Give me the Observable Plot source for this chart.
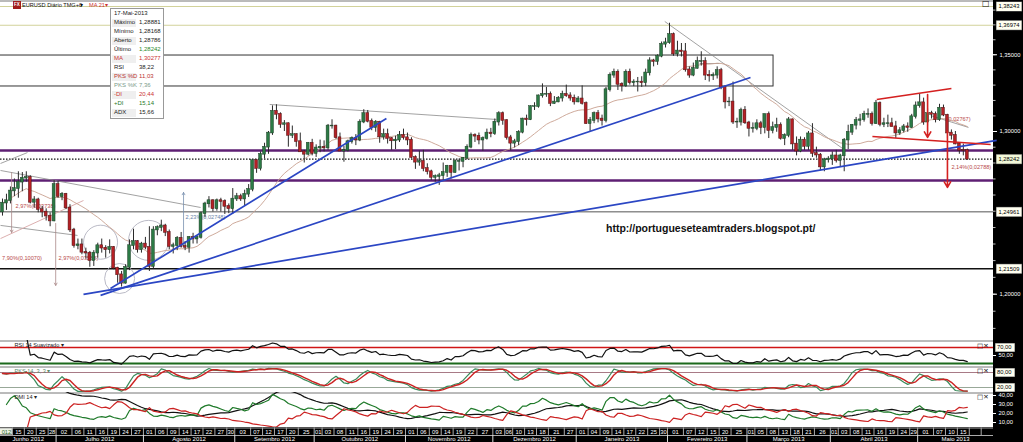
<!DOCTYPE html>
<html><head><meta charset="utf-8">
<script src="https://cdn.jsdelivr.net/npm/d3@7"></script>
<script src="https://cdn.jsdelivr.net/npm/@observablehq/plot@0.6"></script>
<style>
body{margin:0;background:#fff;font-family:"Liberation Sans",Arial,sans-serif;}
#wrap{position:relative;width:1023px;height:442px;overflow:hidden;background:#fff;}
#wrap svg{position:absolute;}
.abs{position:absolute;white-space:nowrap;}
</style></head><body><div id="wrap"></div>
<script>
// ---------------- DATA (EUR/USD daily, 12 Jun 2012 - 17 May 2013) ----------------
const open = [1.2495,1.2550,1.2565,1.2625,1.2640,1.2680,1.2705,1.2710,1.2555,1.2570,1.2510,1.2495,1.2470,1.2440,
1.2665,1.2590,1.2605,1.2520,1.2385,1.2290,1.2295,1.2250,1.2245,1.2200,1.2245,1.2290,1.2275,1.2265,1.2280,1.2155,1.2115,1.2065,1.2160,1.2290,1.2315,1.2265,
1.2300,1.2280,1.2165,1.2385,1.2400,1.2410,1.2370,1.2285,1.2290,1.2335,1.2285,1.2280,1.2340,1.2330,1.2340,1.2485,1.2545,1.2565,1.2515,1.2565,1.2560,1.2530,1.2515,
1.2575,1.2590,1.2575,1.2605,1.2635,1.2815,1.2765,1.2855,1.2900,1.2990,1.3130,1.3110,1.3045,1.3050,1.2975,1.2980,1.2935,1.2870,1.2855,1.2925,
1.2860,1.2895,1.2900,1.2895,1.3035,1.3035,1.2960,1.2875,1.2880,1.2935,1.2955,1.2945,1.3060,1.3115,1.3065,1.3025,1.3060,1.2965,1.2980,1.2955,1.2940,1.2945,1.2975,
1.2960,1.2945,1.2835,1.2805,1.2810,1.2765,1.2745,1.2710,1.2715,1.2720,1.2740,1.2780,1.2740,1.2810,1.2810,1.2830,1.2900,1.2975,1.2970,1.2945,1.2955,1.2990,
1.2985,1.3060,1.3115,1.3070,1.2960,1.2925,1.2935,1.2995,1.3080,1.3075,1.3160,1.3160,1.3230,1.3240,1.3240,1.3180,1.3190,1.3215,1.3240,1.3230,1.3215,
1.3190,1.3210,1.3180,1.3050,1.3070,1.3115,1.3080,1.3070,1.3270,1.3365,1.3385,1.3305,1.3295,1.3385,1.3315,1.3320,1.3320,1.3315,1.3380,1.3460,1.3455,1.3490,1.3570,
1.3580,1.3635,1.3505,1.3525,1.3520,1.3400,1.3365,1.3410,1.3455,1.3455,1.3365,1.3360,1.3365,1.3395,1.3285,1.3190,1.3190,1.3060,1.3060,1.3135,
1.3055,1.3020,1.3020,1.3050,1.3025,1.3110,1.3005,1.3025,1.3040,1.2955,1.2975,1.3075,1.2920,1.2875,1.2945,1.2905,1.2985,1.2860,1.2850,1.2775,1.2820,
1.2825,1.2845,1.2815,1.2845,1.2945,1.2995,1.3040,1.3070,1.3075,1.3110,1.3110,1.3050,1.3180,1.3045,1.3050,1.3050,1.3030,1.2990,1.3005,1.3030,1.3025,1.3095,
1.3165,1.3185,1.3060,1.3115,1.3110,1.3075,1.3150,1.3105,1.2990,1.2975,1.2920,1.2880,1.28786];
const high = [1.2575,1.2605,1.2650,1.2700,1.2745,1.2740,1.2745,1.2720,1.2590,1.2580,1.2530,1.2515,1.2490,1.2690,
1.2685,1.2615,1.2610,1.2540,1.2395,1.2330,1.2330,1.2275,1.2255,1.2260,1.2305,1.2330,1.2290,1.2325,1.2285,1.2160,1.2135,1.2175,1.2325,1.2390,1.2320,1.2310,
1.2340,1.2405,1.2405,1.2410,1.2445,1.2420,1.2385,1.2305,1.2345,1.2370,1.2315,1.2345,1.2365,1.2350,1.2495,1.2555,1.2590,1.2570,1.2575,1.2580,1.2570,1.2545,1.2640,
1.2610,1.2605,1.2630,1.2665,1.2820,1.2820,1.2870,1.2925,1.3000,1.3165,1.3172,1.3120,1.3070,1.3055,1.3035,1.2985,1.2990,1.2880,1.2930,1.2950,
1.2915,1.2945,1.2940,1.3045,1.3075,1.3040,1.2990,1.2905,1.2945,1.2965,1.2980,1.3075,1.3140,1.3135,1.3080,1.3070,1.3065,1.3015,1.3015,1.2960,1.2970,1.3000,1.3015,
1.2990,1.2960,1.2845,1.2875,1.2880,1.2795,1.2755,1.2725,1.2735,1.2800,1.2785,1.2785,1.2820,1.2825,1.2835,1.2915,1.2990,1.2985,1.2990,1.2965,1.3015,1.3020,
1.3080,1.3127,1.3125,1.3075,1.2975,1.2950,1.3005,1.3085,1.3105,1.3165,1.3185,1.3235,1.3308,1.3285,1.3255,1.3225,1.3225,1.3260,1.3300,1.3250,1.3235,
1.3225,1.3295,1.3190,1.3090,1.3125,1.3135,1.3105,1.3285,1.3380,1.3405,1.3400,1.3315,1.3400,1.3405,1.3335,1.3350,1.3355,1.3405,1.3480,1.3470,1.3500,1.3585,1.3610,
1.3711,1.3645,1.3590,1.3575,1.3575,1.3420,1.3445,1.3485,1.3520,1.3480,1.3395,1.3380,1.3420,1.3410,1.3295,1.3220,1.3320,1.3085,1.3150,1.3160,
1.3065,1.3055,1.3075,1.3065,1.3110,1.3125,1.3060,1.3085,1.3055,1.2985,1.3090,1.3080,1.2965,1.2965,1.2960,1.3000,1.3050,1.2900,1.2860,1.2830,1.2840,
1.2870,1.2880,1.2855,1.2955,1.3040,1.3045,1.3090,1.3110,1.3130,1.3145,1.3125,1.3200,1.3190,1.3085,1.3105,1.3085,1.3065,1.3025,1.3045,1.3055,1.3110,1.3190,
1.3243,1.3215,1.3145,1.3130,1.3125,1.3175,1.3170,1.3110,1.3010,1.3000,1.2925,1.2920,1.28881];
const low = [1.2470,1.2505,1.2545,1.2590,1.2580,1.2620,1.2680,1.2545,1.2520,1.2490,1.2460,1.2440,1.2405,1.2435,
1.2580,1.2565,1.2510,1.2370,1.2275,1.2265,1.2235,1.2210,1.2160,1.2165,1.2215,1.2245,1.2215,1.2240,1.2145,1.2065,1.2042,1.2060,1.2140,1.2265,1.2245,1.2245,
1.2265,1.2135,1.2150,1.2350,1.2375,1.2345,1.2265,1.2240,1.2260,1.2275,1.2260,1.2245,1.2300,1.2300,1.2330,1.2460,1.2520,1.2495,1.2500,1.2495,1.2480,1.2485,1.2480,
1.2560,1.2560,1.2535,1.2585,1.2620,1.2735,1.2750,1.2825,1.2855,1.2975,1.3075,1.3020,1.3000,1.2900,1.2955,1.2900,1.2870,1.2800,1.2845,1.2845,
1.2835,1.2865,1.2870,1.2880,1.3015,1.2950,1.2880,1.2805,1.2870,1.2920,1.2910,1.2935,1.3050,1.3055,1.3005,1.2995,1.2925,1.2945,1.2920,1.2880,1.2885,1.2930,1.2945,
1.2910,1.2825,1.2760,1.2780,1.2745,1.2725,1.2690,1.2680,1.2660,1.2690,1.2710,1.2700,1.2735,1.2750,1.2770,1.2820,1.2890,1.2930,1.2915,1.2875,1.2945,1.2960,
1.2975,1.3035,1.3040,1.2945,1.2877,1.2895,1.2910,1.2985,1.3035,1.3070,1.3135,1.3150,1.3215,1.3220,1.3160,1.3175,1.3185,1.3190,1.3220,1.3195,1.3170,
1.3185,1.3170,1.3045,1.2998,1.3050,1.3055,1.3035,1.3055,1.3255,1.3345,1.3265,1.3255,1.3285,1.3300,1.3290,1.3255,1.3285,1.3290,1.3360,1.3420,1.3430,1.3480,1.3545,
1.3570,1.3490,1.3485,1.3485,1.3385,1.3345,1.3355,1.3405,1.3425,1.3330,1.3320,1.3330,1.3340,1.3270,1.3145,1.3160,1.3045,1.3020,1.3035,1.3045,
1.2965,1.2990,1.3005,1.2980,1.2985,1.2955,1.2985,1.2995,1.2945,1.2910,1.2960,1.2880,1.2845,1.2865,1.2880,1.2880,1.2835,1.2830,1.2750,1.2745,1.2800,
1.2785,1.2800,1.2775,1.2745,1.2885,1.2975,1.3010,1.3035,1.3060,1.3085,1.3035,1.3045,1.3030,1.3025,1.3025,1.3030,1.2955,1.2975,1.2990,1.2995,1.3020,1.3080,
1.3150,1.3040,1.3035,1.3080,1.3055,1.3065,1.3095,1.2955,1.2945,1.2915,1.2855,1.2845,1.28168];
const close = [1.2550,1.2565,1.2625,1.2640,1.2680,1.2705,1.2710,1.2555,1.2570,1.2510,1.2495,1.2470,1.2440,1.2665,
1.2590,1.2605,1.2520,1.2385,1.2290,1.2295,1.2250,1.2245,1.2200,1.2245,1.2290,1.2275,1.2265,1.2280,1.2155,1.2115,1.2065,1.2160,1.2290,1.2315,1.2265,1.2300,
1.2280,1.2165,1.2385,1.2400,1.2410,1.2370,1.2285,1.2290,1.2335,1.2285,1.2280,1.2340,1.2330,1.2340,1.2485,1.2545,1.2565,1.2515,1.2565,1.2560,1.2530,1.2515,1.2575,
1.2590,1.2575,1.2605,1.2635,1.2815,1.2765,1.2855,1.2900,1.2990,1.3130,1.3110,1.3045,1.3050,1.2975,1.2980,1.2935,1.2870,1.2855,1.2925,1.2860,
1.2895,1.2900,1.2895,1.3035,1.3035,1.2960,1.2875,1.2880,1.2935,1.2955,1.2945,1.3060,1.3115,1.3065,1.3025,1.3060,1.2965,1.2980,1.2955,1.2940,1.2945,1.2975,1.2960,
1.2945,1.2835,1.2805,1.2810,1.2765,1.2745,1.2710,1.2715,1.2720,1.2740,1.2780,1.2740,1.2810,1.2810,1.2830,1.2900,1.2975,1.2970,1.2945,1.2955,1.2990,1.2985,
1.3060,1.3115,1.3070,1.2960,1.2925,1.2935,1.2995,1.3080,1.3075,1.3160,1.3160,1.3230,1.3240,1.3240,1.3180,1.3190,1.3215,1.3240,1.3230,1.3215,1.3190,
1.3210,1.3180,1.3050,1.3070,1.3115,1.3080,1.3070,1.3270,1.3365,1.3385,1.3305,1.3295,1.3385,1.3315,1.3320,1.3320,1.3315,1.3380,1.3460,1.3455,1.3490,1.3570,1.3580,
1.3635,1.3505,1.3525,1.3520,1.3400,1.3365,1.3410,1.3455,1.3455,1.3365,1.3360,1.3365,1.3395,1.3285,1.3190,1.3190,1.3060,1.3060,1.3135,1.3055,
1.3020,1.3020,1.3050,1.3025,1.3110,1.3005,1.3025,1.3040,1.2955,1.2975,1.3075,1.2920,1.2875,1.2945,1.2905,1.2985,1.2860,1.2850,1.2775,1.2820,1.2825,
1.2845,1.2815,1.2845,1.2945,1.2995,1.3040,1.3070,1.3075,1.3110,1.3110,1.3050,1.3180,1.3045,1.3050,1.3050,1.3030,1.2990,1.3005,1.3030,1.3025,1.3095,1.3165,
1.3185,1.3060,1.3115,1.3110,1.3075,1.3150,1.3105,1.2990,1.2975,1.2920,1.2880,1.2879,1.28242];

// horizontal levels
const khakiLevels = [1.38243, 1.36974];
const grayLevels = [1.24961];
const blackLevels = [1.21509];
const purpleLevels = [1.2879, 1.2690];
const lastPrice = [1.28242];
// right axis
const priceTickLabels = [1.35, 1.30, 1.20];
const priceMinorTicks = [1.38,1.37,1.36,1.35,1.34,1.33,1.32,1.31,1.30,1.29,1.28,1.27,1.26,1.25,1.24,1.23,1.22,1.21,1.20,1.19,1.18];
const priceBoxLabels = [1.38243, 1.36974, 1.28242, 1.24961, 1.21509];
// drawn objects (trading-day index, price)
const zoneBox = [{x1: -5, x2: 194.2, y1: 1.3291, y2: 1.3495}];
const blueLines = [
  {x1: 27.2, y1: 1.2034, x2: 96.7, y2: 1.3083},
  {x1: 24.7, y1: 1.1993, x2: 188.4, y2: 1.3350},
  {x1: 20.4, y1: 1.1999, x2: 250.4, y2: 1.2943}];
const grayLines = [
  {x1: -0.5, y1: 1.2753, x2: 49.9, y2: 1.2523},
  {x1: -0.5, y1: 1.2413, x2: 18.9, y2: 1.2352},
  {x1: -0.5, y1: 1.2797, x2: 6.3, y2: 1.2866},
  {x1: 67.3, y1: 1.3174, x2: 124.4, y2: 1.3077},
  {x1: 166.8, y1: 1.3723, x2: 212.3, y2: 1.2879},
  {x1: 175.6, y1: 1.3442, x2: 180.6, y2: 1.3442},
  {x1: 233.8, y1: 1.3102, x2: 243.3, y2: 1.3026}];
const pinkLines = [{x1: -0.5, y1: 1.2333, x2: 20.4, y2: 1.2566}];
const redLines = [
  {x1: 220.2, y1: 1.3206, x2: 239.0, y2: 1.3278},
  {x1: 219.1, y1: 1.2968, x2: 248.9, y2: 1.2917}];
const grayArrows = [
  {x1: 2.3, y1: 1.2740, x2: 2.3, y2: 1.2370},
  {x1: 13.4, y1: 1.2425, x2: 13.4, y2: 1.2052}];
const blueArrows = [{x1: 45.6, y1: 1.2291, x2: 45.6, y2: 1.2616}];
const redArrows = [
  {x1: 233.0, y1: 1.3239, x2: 233.0, y2: 1.2962},
  {x1: 238.0, y1: 1.3000, x2: 238.0, y2: 1.2647}];
const circles = [
  {x: 24.7, y: 1.2311, r: 17},
  {x: 36.8, y: 1.2322, r: 20},
  {x: 29.5, y: 1.2093, r: 15}];
const redNotes = [
  {x: 3.3, y: 1.2529, t: "2,97%(0,03738)"},
  {x: -0.1, y: 1.2213, t: "7,90%(0,10070)"},
  {x: 14.1, y: 1.2213, t: "2,97%(0,03588)"},
  {x: 239.0, y: 1.2772, t: "2,14%(0,02788)"},
  {x: 237.8, y: 1.3077, t: "(0,02767)"}];
const blueNotes = [{x: 46.1, y: 1.2463, t: "2,23%(0,02748)"}];
// axis calendar
const dayTicks = ["2012-06-15","2012-06-20","2012-06-25","2012-06-28","2012-07-02","2012-07-06","2012-07-11","2012-07-16","2012-07-19","2012-07-24","2012-07-27",
"2012-08-01","2012-08-06","2012-08-09","2012-08-14","2012-08-17","2012-08-22","2012-08-27","2012-08-30","2012-09-03","2012-09-07","2012-09-12","2012-09-17","2012-09-20","2012-09-25",
"2012-10-01","2012-10-03","2012-10-08","2012-10-11","2012-10-16","2012-10-19","2012-10-24","2012-10-29","2012-11-01","2012-11-06","2012-11-09","2012-11-14","2012-11-19","2012-11-22","2012-11-27",
"2012-12-03","2012-12-06","2012-12-10","2012-12-13","2012-12-18","2012-12-21","2012-12-27","2013-01-01","2013-01-04","2013-01-09","2013-01-14","2013-01-17","2013-01-22","2013-01-25","2013-01-30",
"2013-02-01","2013-02-07","2013-02-12","2013-02-15","2013-02-20","2013-02-25","2013-03-01","2013-03-05","2013-03-08","2013-03-13","2013-03-18","2013-03-21","2013-03-26",
"2013-04-01","2013-04-03","2013-04-08","2013-04-11","2013-04-16","2013-04-19","2013-04-24","2013-04-29","2013-05-01","2013-05-07","2013-05-10","2013-05-15","2013-05-20","2013-05-23"];
const blankTicks = ["2013-05-20","2013-05-23"];
const monthStarts = ["2012-06-12","2012-07-02","2012-08-01","2012-09-03","2012-10-01","2012-11-01","2012-12-03","2013-01-01","2013-02-01","2013-03-01","2013-04-01","2013-05-01"];
const monthNames = ["Junho 2012","Julho 2012","Agosto 2012","Setembro 2012","Outubro 2012","Novembro 2012","Dezembro 2012","Janeiro 2013","Fevereiro 2013","Março 2013","Abril 2013","Maio 2013"];
// info box
const infoTitle = "17-Mai-2013";
const infoLabels = ["Máximo","Mínimo","Aberto","Último","MA","RSI","PKS %D","PKS %K","-DI","+DI","ADX"];
const infoValues = ["1,28881","1,28168","1,28786","1,28242","1,30277","38,22","11,03","7,36","20,44","15,14","15,66"];
const infoLabelColors = ["#222","#222","#222","#222","#c33","#222","#b33","#7a9a8a","#c33","#2a7a2a","#222"];
const infoValueColors = ["#222","#222","#222","#2a8a2a","#c33","#222","#b33","#7a9a8a","#c33","#2a7a2a","#222"];

// ---------------- DERIVED ----------------
const N = close.length;
const fmtISO = d3.utcFormat("%Y-%m-%d");
const calendar = [];
for (let d = new Date(Date.UTC(2012,5,12)); calendar.length < 256; d = d3.utcDay.offset(d,1)) {
  const w = d.getUTCDay(); if (w !== 0 && w !== 6) calendar.push(fmtISO(d));
}
const idxOf = s => calendar.indexOf(s);
const candles = d3.range(N).map(i => ({i, o: open[i], h: high[i], l: low[i], c: close[i]}));
const up = candles.filter(d => d.c >= d.o), down = candles.filter(d => d.c < d.o);
const sma = (arr, n) => arr.map((_, i) => d3.mean(arr.slice(Math.max(0, i - n + 1), i + 1)));
const ma21 = sma(close, 21).map((v, i) => ({i, v}));
// RSI 14 (Wilder)
const rsi = []; {let ag = 0, al = 0;
  for (let i = 1; i < N; i++) { const ch = close[i] - close[i-1], k = Math.min(i, 14);
    ag += (Math.max(ch, 0) - ag) / k; al += (Math.max(-ch, 0) - al) / k;
    rsi.push({i, v: al === 0 ? 100 : 100 - 100 / (1 + ag / al)}); } }
// Stochastic 14,3,3
const raw = close.map((c, i) => { const a = Math.max(0, i - 13);
  const hh = d3.max(high.slice(a, i + 1)), ll = d3.min(low.slice(a, i + 1)); return 100 * (c - ll) / (hh - ll); });
const kS = sma(raw, 3), dS = sma(kS, 3);
const stK = kS.map((v, i) => ({i, v})), stD = dS.map((v, i) => ({i, v}));
// DMI 14
const dmi = []; {let atr = 0, ap = 0, am = 0, adx = 0;
  for (let i = 1; i < N; i++) { const k = Math.min(i, 14);
    const u = high[i] - high[i-1], dn = low[i-1] - low[i];
    const pdm = u > dn && u > 0 ? u : 0, mdm = dn > u && dn > 0 ? dn : 0;
    const tr = Math.max(high[i] - low[i], Math.abs(high[i] - close[i-1]), Math.abs(low[i] - close[i-1]));
    atr += (tr - atr) / k; ap += (pdm - ap) / k; am += (mdm - am) / k;
    const pdi = 100 * ap / atr, mdi = 100 * am / atr, dx = 100 * Math.abs(pdi - mdi) / ((pdi + mdi) || 1);
    adx += (dx - adx) / k; dmi.push({i, pdi, mdi, adx}); } }

// ---------------- LAYOUT ----------------
const wrap = document.getElementById("wrap");
const FONT = "Liberation Sans, Arial, sans-serif";
const xDom = [-0.5, 249.6];
const yDom = [1.17298, 1.38652];
const GREEN = "#2c7a45", RED = "#b52025";
function place(el, left, top) { el.style.position = "absolute"; el.style.left = left + "px"; el.style.top = top + "px"; wrap.appendChild(el); return el; }
const st = bg => ({background: bg, overflow: "visible", fontFamily: FONT});
const fmt5 = d => d.toFixed(5).replace(".", ",");
const fmt2 = d => d.toFixed(2).replace(".", ",");

// black axis column
const col = document.createElement("div");
col.style.cssText = "background:#000;width:30px;height:442px;";
place(col, 993, 0);

// main price panel
place(Plot.plot({
  width: 993, height: 340, margin: 0, style: st("transparent"),
  x: {domain: xDom, axis: null}, y: {type: "log", domain: yDom, axis: null}, r: {type: "identity"},
  marks: [
    Plot.ruleY(khakiLevels, {stroke: "#d2d29a", strokeWidth: 1.2}),
    Plot.ruleY(grayLevels, {stroke: "#555", strokeWidth: 1}),
    Plot.ruleY(blackLevels, {stroke: "#111", strokeWidth: 1.6}),
    Plot.rect(zoneBox, {x1: "x1", x2: "x2", y1: "y1", y2: "y2", fill: "none", stroke: "#333", strokeWidth: 1}),
    Plot.ruleY(lastPrice, {stroke: "#111", strokeWidth: 1.2, strokeDasharray: "1.5,1.5"}),
    Plot.ruleY(purpleLevels, {stroke: "#5e1f73", strokeWidth: 2.6}),
    Plot.text(redNotes, {x: "x", y: "y", text: "t", fill: "#b84a4a", fontSize: 5.6, textAnchor: "start"}),
    Plot.text(blueNotes, {x: "x", y: "y", text: "t", fill: "#6a84a8", fontSize: 5.6, textAnchor: "start"}),
    Plot.link(grayLines, {x1: "x1", y1: "y1", x2: "x2", y2: "y2", stroke: "#8a8a8a", strokeWidth: 0.8}),
    Plot.link(pinkLines, {x1: "x1", y1: "y1", x2: "x2", y2: "y2", stroke: "#d8a6a6", strokeWidth: 0.9}),
    Plot.dot(circles, {x: "x", y: "y", r: "r", stroke: "#a8a8b8", strokeWidth: 0.8, fill: "none"}),
    Plot.arrow(grayArrows, {x1: "x1", y1: "y1", x2: "x2", y2: "y2", stroke: "#a88", strokeWidth: 0.8, headLength: 5}),
    Plot.arrow(blueArrows, {x1: "x1", y1: "y1", x2: "x2", y2: "y2", stroke: "#7890b0", strokeWidth: 0.8, headLength: 5}),
    Plot.line(ma21, {x: "i", y: "v", stroke: "#c8a090", strokeWidth: 0.9}),
    Plot.ruleX(candles, {x: "i", y1: "l", y2: "h", stroke: "#2a2a2a", strokeWidth: 1}),
    Plot.rect(up, {x1: d => d.i - 0.36, x2: d => d.i + 0.36, y1: "o", y2: "c", fill: GREEN, stroke: "#1d3d25", strokeWidth: 0.5, insetTop: -0.4, insetBottom: -0.4}),
    Plot.rect(down, {x1: d => d.i - 0.36, x2: d => d.i + 0.36, y1: "o", y2: "c", fill: RED, stroke: "#4a1414", strokeWidth: 0.5, insetTop: -0.4, insetBottom: -0.4}),
    Plot.link(blueLines, {x1: "x1", y1: "y1", x2: "x2", y2: "y2", stroke: "#2b46c4", strokeWidth: 1.7}),
    Plot.link(redLines, {x1: "x1", y1: "y1", x2: "x2", y2: "y2", stroke: "#d42020", strokeWidth: 1.7}),
    Plot.arrow(redArrows, {x1: "x1", y1: "y1", x2: "x2", y2: "y2", stroke: "#d42020", strokeWidth: 1.6, headLength: 6}),
    Plot.ruleY([yDom[1]], {stroke: "#777", dy: 0.5})
  ]
}), 0, 0);

// main price axis column
place(Plot.plot({
  width: 30, height: 340, margin: 0, style: st("transparent"),
  x: {domain: [0, 30], axis: null}, y: {type: "log", domain: yDom, axis: null},
  marks: [
    Plot.ruleY(priceMinorTicks, {x1: 0, x2: 2.5, stroke: "#bbb"}),
    Plot.ruleY(priceTickLabels, {x1: 0, x2: 4, stroke: "#fff"}),
    Plot.text(priceTickLabels, {x: 6, y: d => d, text: fmt5, fill: "#fff", fontSize: 5.8, textAnchor: "start"}),
    Plot.ruleY(priceBoxLabels, {x1: 3, x2: 29, stroke: "#666", strokeWidth: 10}),
    Plot.ruleY(priceBoxLabels, {x1: 3.5, x2: 28.5, stroke: d => d === lastPrice[0] ? "#f2f8d8" : "#fffff0", strokeWidth: 9}),
    Plot.text(priceBoxLabels, {x: 5, y: d => d, text: fmt5, fill: "#000", fontSize: 5.8, textAnchor: "start"})
  ]
}), 993, 0);

// indicator panels
function panel({top, height, dom, marks, label, labelColor, boxes, plain}) {
  place(Plot.plot({
    width: 993, height, margin: 0, style: st("transparent"),
    x: {domain: xDom, axis: null}, y: {domain: dom, axis: null},
    marks: [
      Plot.ruleY([dom[1]], {stroke: "#777", dy: 0.5}),
      ...marks,
      Plot.text([label], {frameAnchor: "top-left", dx: 14, dy: 2.5, text: d => d, fill: labelColor, fontSize: 5.6})
    ]
  }), 0, top);
  place(Plot.plot({
    width: 30, height, margin: 0, style: st("transparent"),
    x: {domain: [0, 30], axis: null}, y: {domain: dom, axis: null},
    marks: [
      Plot.ruleY(plain, {x1: 0, x2: 3, stroke: "#fff"}),
      Plot.text(plain, {x: 5, y: d => d, text: fmt2, fill: "#fff", fontSize: 5.8, textAnchor: "start"}),
      Plot.ruleY(boxes, {x1: 2, x2: 22, stroke: "#666", strokeWidth: 9}),
      Plot.ruleY(boxes, {x1: 2.5, x2: 21.5, stroke: "#fffff0", strokeWidth: 8}),
      Plot.text(boxes, {x: 3.5, y: d => d, text: fmt2, fill: "#000", fontSize: 5.8, textAnchor: "start"})
    ]
  }), 993, top);
}
const rsiLevels = {top: 70, bottom: 30};
panel({top: 340, height: 26, dom: [22.5, 87.5], label: "RSI 14 Suavizado ▾", labelColor: "#222",
  boxes: [70], plain: [50],
  marks: [
    Plot.ruleY([rsiLevels.top], {stroke: "#d01515", strokeWidth: 1.6}),
    Plot.ruleY([rsiLevels.bottom], {stroke: "#1d6a1d", strokeWidth: 2}),
    Plot.line(rsi, {x: "i", y: "v", stroke: "#111", strokeWidth: 1.2, clip: true})
  ]});
panel({top: 366, height: 26, dom: [0, 104], label: "PKS 14, 3, 3 ▾", labelColor: "#5a8a6a",
  boxes: [80, 20], plain: [],
  marks: [
    Plot.ruleY([80], {stroke: "#a87a86", strokeWidth: 1}),
    Plot.ruleY([20], {stroke: "#98a898", strokeWidth: 1}),
    Plot.line(stK, {x: "i", y: "v", stroke: "#3a8a5a", strokeWidth: 1.2, clip: true}),
    Plot.line(stD, {x: "i", y: "v", stroke: "#cc2222", strokeWidth: 1.4, clip: true})
  ]});
panel({top: 392, height: 35, dom: [4.44, 43.33], label: "DMI 14 ▾", labelColor: "#222",
  boxes: [], plain: [40, 30, 20, 10],
  marks: [
    Plot.line(dmi, {x: "i", y: "adx", stroke: "#111", strokeWidth: 1.2, clip: true}),
    Plot.line(dmi, {x: "i", y: "pdi", stroke: "#1f7a2a", strokeWidth: 1.2, clip: true}),
    Plot.line(dmi, {x: "i", y: "mdi", stroke: "#cc2222", strokeWidth: 1.2, clip: true})
  ]});

// date strip
const tickIdx = dayTicks.map(idxOf);
const dayCells = tickIdx.map((ix, k) => {
  const a = ix - 0.5, b = k + 1 < tickIdx.length ? tickIdx[k + 1] - 0.5 : xDom[1];
  return {a, m: (a + b) / 2, label: blankTicks.includes(dayTicks[k]) ? "" : dayTicks[k].slice(8)};
});
const monthSpans = monthStarts.map((s, k) => {
  const a = k === 0 ? xDom[0] : idxOf(s) - 0.5, b = k + 1 < monthStarts.length ? idxOf(monthStarts[k + 1]) - 0.5 : xDom[1];
  return {a, m: (a + b) / 2, name: monthNames[k]};
});
place(Plot.plot({
  width: 993, height: 15, margin: 0, style: st("#000"),
  x: {domain: xDom, axis: null}, y: {domain: [0, 15], range: [0, 15], axis: null},
  marks: [
    Plot.rect([0], {x1: xDom[0], x2: tickIdx[0] - 0.5, y1: 0.8, y2: 7.6, fill: "#eef2e6"}),
    Plot.text(["012"], {x: (xDom[0] + tickIdx[0] - 0.5) / 2, y: 4.3, text: d => d, fill: "#2a6a2a", fontSize: 5.8}),
    Plot.ruleY([0.5, 8], {stroke: "#aaa"}),
    Plot.ruleX(dayCells, {x: "a", y1: 0.5, y2: 8, stroke: "#aaa"}),
    Plot.text(dayCells, {x: "m", y: 4.4, text: "label", fill: "#fff", fontSize: 5.8}),
    Plot.ruleX(monthSpans.slice(1), {x: "a", y1: 8, y2: 15, stroke: "#ddd"}),
    Plot.text(monthSpans, {x: "m", y: 11.8, text: "name", fill: "#fff", fontSize: 6})
  ]
}), 0, 427);

// HTML overlays: header, info box, url, icons
function span(txt, left, top, css) { const s = document.createElement("div"); s.className = "abs"; s.textContent = txt;
  s.style.cssText += `left:${left}px;top:${top}px;${css}`; wrap.appendChild(s); return s; }
span("FX", 13, 1, "width:8px;height:8px;background:#a01c1c;color:#fff;font:bold 4.5px " + FONT + ";line-height:8px;text-align:center;");
span("EURUSD Diário TMG+0", 22, 1.5, "font:5.6px " + FONT + ";color:#111;");
span("▾", 80, 1, "font:6px DejaVu Sans;color:#111;");
span("MA 21", 89, 1.5, "font:5.6px " + FONT + ";color:#c33;");
span("▾", 105, 1, "font:6px DejaVu Sans;color:#c33;");
const box = document.createElement("div"); box.className = "abs";
box.style.cssText = "left:110px;top:8px;width:52px;height:109px;background:#fff;border:1px solid #999;";
wrap.appendChild(box);
span(infoTitle, 114, 9.5, "font:6px " + FONT + ";color:#222;");
infoLabels.forEach((l, k) => {
  const y = 18.5 + 9 * k;
  span("", 112, y, `width:24px;height:8px;background:${k % 2 ? "#fff" : "#efefef"};`);
  span(l, 114, y, `font:6px ${FONT};color:${infoLabelColors[k]};`);
  span(infoValues[k], 139, y, `font:6px ${FONT};color:${infoValueColors[k]};`);
});
span("http://portugueseteamtraders.blogspot.pt/", 606, 222, "font:bold 10.5px " + FONT + ";color:#111;");
span("□", 982, -1, "font:8px DejaVu Sans;color:#111;");
[342, 367, 393].forEach(t => span("□✕", 977, t, "font:6.5px DejaVu Sans;color:#111;"));
</script></body></html>
